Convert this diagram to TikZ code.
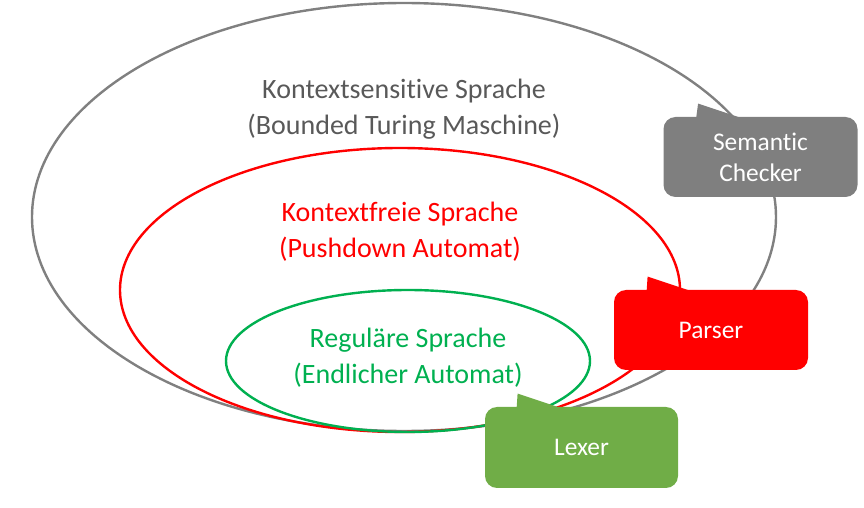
\documentclass[tikz,border=0pt]{standalone}
\usepackage{fontspec}
\setmainfont[Ligatures=NoCommon,RawFeature={-liga;-clig;-calt;-dlig}]{Carlito}
\usetikzlibrary{shapes.geometric}
\definecolor{cgray}{HTML}{808080}
\definecolor{cgraytext}{HTML}{595959}
\definecolor{cred}{HTML}{FF0000}
\definecolor{cgreen}{HTML}{00B050}
\definecolor{clexer}{HTML}{70AD47}
\definecolor{cbox}{HTML}{7F7F7F}
\tikzset{
  setring/.style={ellipse, inner sep=0pt, line width=1.2pt},
  lbl/.style={align=center, font=\fontsize{14}{18}\selectfont},
  callbox/.style={rectangle, rounded corners=6pt, inner sep=0pt, minimum width=97pt, minimum height=40pt, align=center, text=white, font=\fontsize{12.7}{15.5}\selectfont}
}
\begin{document}
\begin{tikzpicture}[x=0.5pt,y=-0.5pt]
\useasboundingbox (0,0) rectangle (864,508);
% sets
\node[setring, draw=cgray, minimum width=372pt, minimum height=214pt] (cs) at (404,217) {};
\node[setring, draw=cred, minimum width=280pt, minimum height=142pt] (cf) at (400,290) {};
\node[setring, draw=cgreen, minimum width=182pt, minimum height=71pt] (rg) at (408,361) {};
% labels
\node[lbl, text=cgraytext] (csl) at (404,109) {Kontextsensitive Sprache\\(Bounded Turing Maschine)};
\node[lbl, text=cred] (cfl) at (400,232) {Kontextfreie Sprache\\(Pushdown Automat)};
\node[lbl, text=cgreen] (rgl) at (408,358) {Reguläre Sprache\\(Endlicher Automat)};
% callouts
\node[callbox, fill=cbox] (sem) at (760.5,157) {Semantic\\Checker};
\fill[cbox] ([shift={(33,2)}]sem.north west) -- ([shift={(35,-13)}]sem.north west) -- ([shift={(80,2)}]sem.north west) -- cycle;
\node[callbox, fill=cred] (par) at (711,330) {Parser};
\fill[cred] ([shift={(33,2)}]par.north west) -- ([shift={(34,-13)}]par.north west) -- ([shift={(79,2)}]par.north west) -- cycle;
\node[callbox, fill=clexer, minimum width=96.5pt, minimum height=40.5pt] (lex) at (581.5,447.5) {Lexer};
\fill[clexer] ([shift={(32,2)}]lex.north west) -- ([shift={(33,-13)}]lex.north west) -- ([shift={(78,2)}]lex.north west) -- cycle;
\end{tikzpicture}
\end{document}
